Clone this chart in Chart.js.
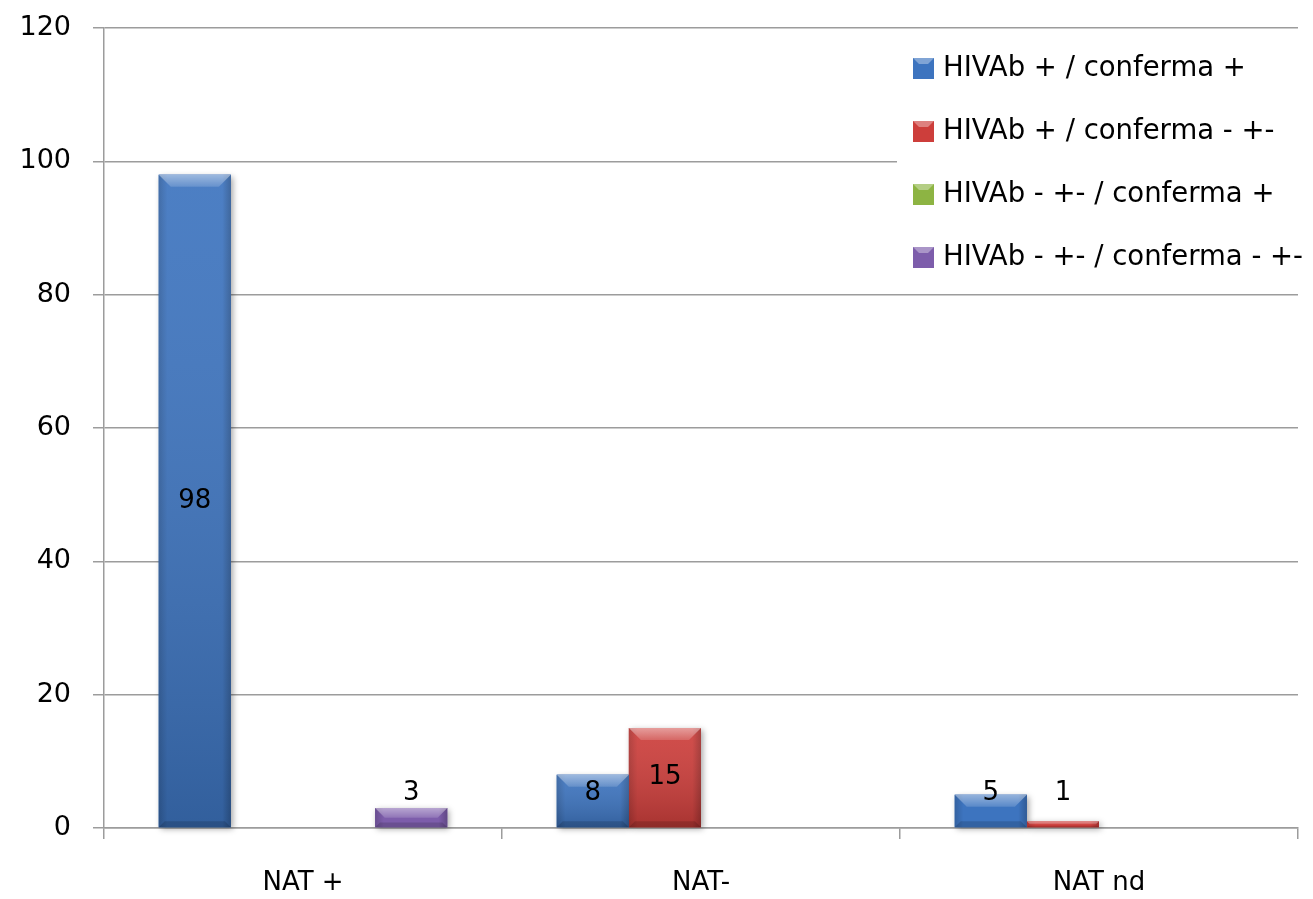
<!DOCTYPE html>
<html>
<head>
<meta charset="utf-8">
<title>NAT / HIVAb</title>
<script src="https://cdn.jsdelivr.net/npm/chart.js@4/dist/chart.umd.min.js"></script>
<style>
  html, body { margin: 0; padding: 0; background: #fff; }
  #wrap { width: 1313px; height: 899px; position: relative; }
</style>
</head>
<body>
<div id="wrap"><canvas id="natChart"></canvas></div>
<script>
/* ---------- dati ---------- */
const categories = ["NAT +", "NAT-", "NAT nd"];
const seriesNames = [
  "HIVAb + / conferma +",
  "HIVAb + / conferma - +-",
  "HIVAb - +- / conferma +",
  "HIVAb - +- / conferma - +-"
];
const abPosConfPos = [98, 8, 5];
const abPosConfNeg = [0, 15, 1];
const abNegConfPos = [0, 0, 0];
const abNegConfNeg = [3, 0, 0];
const yTickValues = [0, 20, 40, 60, 80, 100, 120];

const seriesColors = ["#3D74BF", "#CD3E3B", "#8DB443", "#7D5DAB"];
const FONT = "'DejaVu Sans', Verdana, sans-serif";
const GRID = "#9c9c9c";

/* ---------- effetto "bevel" sulle barre ---------- */
const bevelPlugin = {
  id: "bevel",
  beforeDatasetsDraw(chart) {
    const ctx = chart.ctx;
    ctx.save();
    chart.data.datasets.forEach((ds, i) => {
      chart.getDatasetMeta(i).data.forEach((bar, j) => {
        if (!ds.data[j]) return;
        const w = bar.width, x0 = bar.x - w / 2;
        ctx.shadowColor = "rgba(0,0,0,0.35)";
        ctx.shadowBlur = 6;
        ctx.shadowOffsetX = 2;
        ctx.shadowOffsetY = 2;
        ctx.fillStyle = ds.backgroundColor;
        ctx.fillRect(x0, bar.y, w, bar.base - bar.y);
      });
    });
    ctx.restore();
  },
  afterDatasetsDraw(chart) {
    const ctx = chart.ctx;
    ctx.save();
    chart.data.datasets.forEach((ds, i) => {
      chart.getDatasetMeta(i).data.forEach((bar, j) => {
        if (!ds.data[j]) return;
        const w = bar.width, x0 = bar.x - w / 2, x1 = x0 + w;
        const top = bar.y, bot = bar.base, h = bot - top;
        const b = Math.min(12, h / 2);

        // sfumatura orizzontale
        const gh = ctx.createLinearGradient(x0, 0, x1, 0);
        gh.addColorStop(0, "rgba(0,0,0,0.16)");
        gh.addColorStop(0.12, "rgba(0,0,0,0)");
        gh.addColorStop(0.88, "rgba(0,0,0,0)");
        gh.addColorStop(1, "rgba(0,0,0,0.22)");
        ctx.fillStyle = gh;
        ctx.fillRect(x0, top, w, h);

        // sfumatura verticale (più scuro in basso)
        if (h > 40) {
          const gv = ctx.createLinearGradient(0, top, 0, bot);
          gv.addColorStop(0, "rgba(255,255,255,0.08)");
          gv.addColorStop(1, "rgba(0,0,0,0.18)");
          ctx.fillStyle = gv;
          ctx.fillRect(x0, top, w, h);
        }

        // bordo superiore chiaro
        const gt = ctx.createLinearGradient(0, top, 0, top + b);
        gt.addColorStop(0, "rgba(255,255,255,0.45)");
        gt.addColorStop(1, "rgba(255,255,255,0.15)");
        ctx.fillStyle = gt;
        ctx.beginPath();
        ctx.moveTo(x0, top);
        ctx.lineTo(x1, top);
        ctx.lineTo(x1 - b, top + b);
        ctx.lineTo(x0 + b, top + b);
        ctx.closePath();
        ctx.fill();

        // bordo inferiore scuro
        ctx.fillStyle = "rgba(0,0,0,0.15)";
        ctx.beginPath();
        ctx.moveTo(x0, bot);
        ctx.lineTo(x1, bot);
        ctx.lineTo(x1 - b / 2, bot - b / 2);
        ctx.lineTo(x0 + b / 2, bot - b / 2);
        ctx.closePath();
        ctx.fill();
      });
    });
    ctx.restore();
  }
};

/* ---------- etichette dei valori ---------- */
const valueLabels = {
  id: "valueLabels",
  afterDatasetsDraw(chart) {
    const ctx = chart.ctx;
    ctx.save();
    ctx.font = "26px " + FONT;
    ctx.fillStyle = "#000";
    ctx.textAlign = "center";
    ctx.textBaseline = "middle";
    chart.data.datasets.forEach((ds, i) => {
      chart.getDatasetMeta(i).data.forEach((bar, j) => {
        const v = ds.data[j];
        if (!v) return;
        const mid = (bar.y + bar.base) / 2;
        ctx.fillText(String(v), bar.x, Math.min(mid, bar.base - 34));
      });
    });
    ctx.restore();
  }
};

/* ---------- legenda sopra l'area del grafico ---------- */
const boxLegend = {
  id: "boxLegend",
  afterDraw(chart) {
    const ctx = chart.ctx;
    ctx.save();
    ctx.fillStyle = "#fff";
    ctx.fillRect(897, 37, 416, 250);
    ctx.font = "27.5px " + FONT;
    ctx.textBaseline = "middle";
    chart.data.datasets.forEach((ds, i) => {
      const y = 68 + i * 63;
      ctx.fillStyle = ds.backgroundColor;
      ctx.fillRect(913, y - 10, 21, 21);
      ctx.fillStyle = "rgba(255,255,255,0.35)";
      ctx.beginPath();
      ctx.moveTo(913, y - 10); ctx.lineTo(934, y - 10);
      ctx.lineTo(928, y - 4); ctx.lineTo(919, y - 4);
      ctx.closePath(); ctx.fill();
      ctx.fillStyle = "#000";
      ctx.fillText(ds.label, 943, y + 1);
    });
    ctx.restore();
  }
};

/* ---------- grafico ---------- */
function buildDataset(label, data, color) {
  return {
    label,
    data,
    backgroundColor: color,
    borderWidth: 0,
    categoryPercentage: 0.725,
    barPercentage: 1
  };
}

const ctx = document.getElementById("natChart").getContext("2d");
new Chart(ctx, {
  type: "bar",
  data: {
    labels: categories,
    datasets: [
      buildDataset(seriesNames[0], abPosConfPos, seriesColors[0]),
      buildDataset(seriesNames[1], abPosConfNeg, seriesColors[1]),
      buildDataset(seriesNames[2], abNegConfPos, seriesColors[2]),
      buildDataset(seriesNames[3], abNegConfNeg, seriesColors[3])
    ]
  },
  options: {
    responsive: true,
    maintainAspectRatio: false,
    animation: false,
    layout: { padding: { left: 0, top: 28, right: 15, bottom: 0 } },
    plugins: {
      legend: { display: false },
      tooltip: { enabled: false }
    },
    scales: {
      x: {
        grid: {
          offset: true,
          drawOnChartArea: false,
          color: GRID,
          lineWidth: 1.5,
          tickLength: 11
        },
        border: { color: GRID, width: 1.5 },
        ticks: {
          color: "#000",
          font: { family: FONT, size: 26 },
          padding: 29
        },
        afterFit(scale) { scale.height = 71; }
      },
      y: {
        min: 0,
        max: 120,
        afterBuildTicks(scale) {
          scale.ticks = yTickValues.map(v => ({ value: v }));
        },
        grid: {
          color: GRID,
          lineWidth: 1.5,
          tickLength: 11
        },
        border: { color: GRID, width: 1.5 },
        ticks: {
          color: "#000",
          // lineHeight ridotto: la riga singola resta centrata sul tick,
          // ma non allarga il margine superiore del grafico
          font: { family: FONT, size: 27, lineHeight: 0.4 },
          padding: 22
        },
        afterFit(scale) { scale.width = 104; }
      }
    }
  },
  plugins: [bevelPlugin, valueLabels, boxLegend]
});
</script>
</body>
</html>
